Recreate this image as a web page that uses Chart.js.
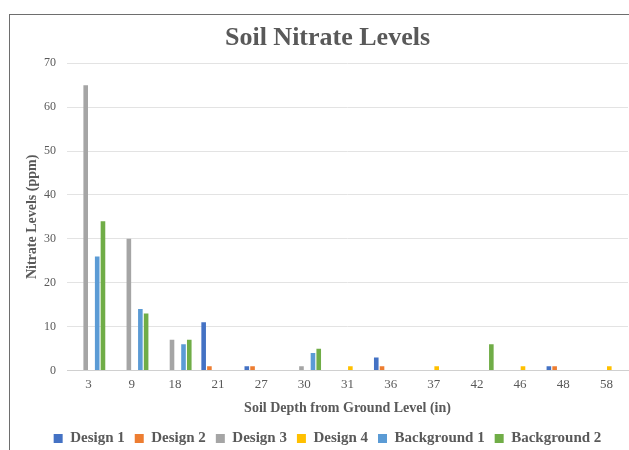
<!doctype html>
<html lang="en">
  <head>
    <meta charset="utf-8">
    <title>Soil Nitrate Levels</title>
    <script src="https://cdn.jsdelivr.net/npm/chart.js@4.4.1/dist/chart.umd.min.js"></script>
    <style>
      html, body {
        margin: 0;
        padding: 0;
        background: #ffffff;
        overflow: hidden;
      }
      #frame {
        position: absolute;
        left: 9px;
        top: 14px;
        width: 660px;
        height: 460px;
        border: 1px solid #6e6e6e;
      }
      #wrap {
        position: absolute;
        left: 10px;
        top: 15px;
        width: 635px;
        height: 441px;
      }
    </style>
  </head>
  <body>
    <div id="frame"></div>
    <div id="wrap"><canvas id="myChart"></canvas></div>
    <script>
      const depths = ['3', '9', '18', '21', '27', '30', '31', '36', '37', '42', '46', '48', '58'];
      const design1 = [0, 0, 0, 11, 1, 0, 0, 3, 0, 0, 0, 1, 0];
      const design2 = [0, 0, 0, 1, 1, 0, 0, 1, 0, 0, 0, 1, 0];
      const design3 = [65, 30, 7, 0, 0, 1, 0, 0, 0, 0, 0, 0, 0];
      const design4 = [0, 0, 0, 0, 0, 0, 1, 0, 1, 0, 1, 0, 1];
      const background1 = [26, 14, 6, 0, 0, 4, 0, 0, 0, 0, 0, 0, 0];
      const background2 = [34, 13, 7, 0, 0, 5, 0, 0, 0, 6, 0, 0, 0];
      const yTicks = [0, 10, 20, 30, 40, 50, 60, 70];

      const textColor = '#595959';
      const serif = "'Liberation Serif', 'Times New Roman', serif";

      function series(label, data, color) {
        return {
          label: label,
          data: data,
          backgroundColor: color,
          borderWidth: 0,
          categoryPercentage: 0.8,
          barPercentage: 0.8
        };
      }

      const ctx = document.getElementById('myChart').getContext('2d');
      const myChart = new Chart(ctx, {
        type: 'bar',
        data: {
          labels: depths,
          datasets: [
            series('Design 1', design1, '#4472C4'),
            series('Design 2', design2, '#ED7D31'),
            series('Design 3', design3, '#A5A5A5'),
            series('Design 4', design4, '#FFC000'),
            series('Background 1', background1, '#5B9BD5'),
            series('Background 2', background2, '#70AD47')
          ]
        },
        options: {
          responsive: true,
          maintainAspectRatio: false,
          animation: false,
          layout: { padding: 0 },
          plugins: {
            title: {
              display: true,
              text: 'Soil Nitrate Levels',
              color: textColor,
              font: { family: serif, size: 26, weight: 'bold' },
              padding: { top: 8, bottom: 9 }
            },
            legend: {
              position: 'bottom',
              labels: {
                color: textColor,
                font: { family: serif, size: 15, weight: 'bold' },
                boxWidth: 9,
                boxHeight: 9,
                padding: 10
              }
            },
            tooltip: { enabled: false }
          },
          scales: {
            x: {
              grid: { display: false, drawTicks: false },
              border: { color: '#d0d0d0' },
              ticks: {
                color: textColor,
                font: { family: serif, size: 13 },
                padding: 6
              },
              title: {
                display: true,
                text: 'Soil Depth from Ground Level (in)',
                color: textColor,
                font: { family: serif, size: 14, weight: 'bold' },
                padding: { top: 2, bottom: 4 }
              }
            },
            y: {
              min: 0,
              max: 70,
              afterBuildTicks: function(scale) {
                scale.ticks = yTicks.map(function(v) { return { value: v }; });
              },
              afterFit: function(scale) {
                scale.width = 57;
              },
              grid: { color: '#e3e3e3', drawTicks: false },
              border: { display: false },
              ticks: {
                color: textColor,
                font: { family: serif, size: 12 },
                padding: 11
              },
              title: {
                display: true,
                text: 'Nitrate Levels (ppm)',
                color: textColor,
                font: { family: serif, size: 14, weight: 'bold' },
                padding: { top: 14, bottom: 0 }
              }
            },
            // empty right axis: the chart frame runs past the window edge
            yRight: {
              position: 'right',
              min: 0,
              max: 70,
              grid: { display: false, drawTicks: false },
              border: { display: false },
              ticks: { display: false },
              afterFit: function(scale) {
                scale.width = 17;
              }
            }
          }
        }
      });
    </script>
  </body>
</html>
